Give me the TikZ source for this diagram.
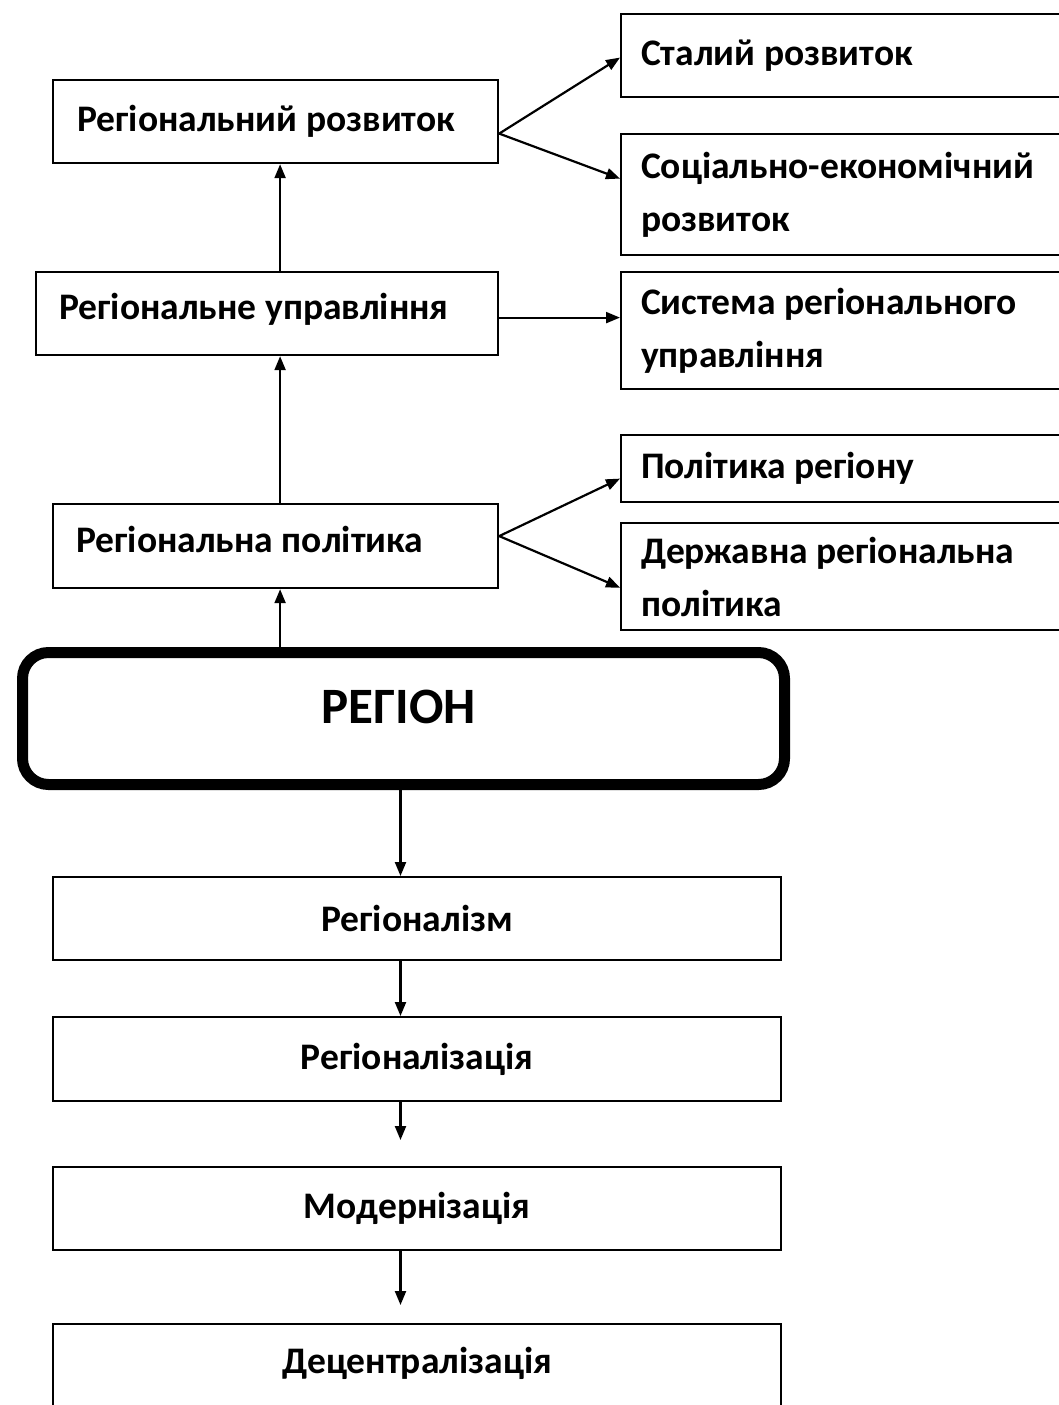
\documentclass[tikz,border=0pt]{standalone}
\usepackage{fontspec}
\setmainfont{Carlito}
\usetikzlibrary{arrows.meta,calc}
\begin{document}
\begin{tikzpicture}[x=1pt,y=-1pt,
  box/.style={draw, line width=2.2pt, inner sep=0pt, anchor=north west,
    font=\fontsize{37.5}{53}\selectfont\bfseries,
    execute at begin node={\spaceskip=8.5pt\relax}},
  leftbox/.style={box, align=flush left},
  midbox/.style={box, align=center},
  arr/.style={line width=2.2pt, -{Triangle[length=14pt,width=11pt]}},
  core/.style={draw, line width=11pt, rounded corners=26pt, inner sep=0pt,
    anchor=north west, font=\fontsize{51}{60}\selectfont\bfseries}
]
\useasboundingbox (0,0) rectangle (1059,1405);

% left column
\node[leftbox, minimum width=445, minimum height=83, text width=397] (rr) at (52,79) {Регіональний розвиток};
\node[leftbox, minimum width=462, minimum height=83, text width=416, text depth=14pt] (ru) at (35,271) {Регіональне управління};
\node[leftbox, minimum width=445, minimum height=84, text width=399, text depth=14pt] (rp) at (52,503) {Регіональна політика};

% right column
\node[leftbox, minimum width=460, minimum height=83, text width=420] (s1) at (620,13) {Сталий розвиток};
\node[leftbox, minimum width=460, minimum height=121, text width=420] (s2) at (620,133) {Соціально-економічний\\розвиток};
\node[leftbox, minimum width=460, minimum height=117, text width=420] (s3) at (620,271) {Система регіонального\\управління};
\node[leftbox, minimum width=460, minimum height=67, text width=420] (s4) at (620,434) {Політика регіону};
\node[leftbox, minimum width=460, minimum height=107, text width=420] (s5) at (620,522) {Державна регіональна\\політика};

% central node
\node[core, minimum width=762, minimum height=132, text height=33pt, text depth=23pt, text width=740, align=center] (region) at (17,647) {\hspace*{-10pt}РЕГІОН};

% lower chain
\node[midbox, minimum width=728, minimum height=83, text width=728] (b1) at (52,876) {Регіоналізм};
\node[midbox, minimum width=728, minimum height=84, text width=728] (b2) at (52,1016) {Регіоналізація};
\node[midbox, minimum width=728, minimum height=83, text width=728] (b3) at (52,1166) {Модернізація};
\node[midbox, minimum width=728, minimum height=100, text width=728, text height=24pt, text depth=26pt] (b4) at (52,1323) {Децентралізація};

% upward chain
\draw[arr] ([xshift=4.5pt]region.north -| rp.south) -- ([xshift=4.5pt]rp.south);
\draw[arr] ([xshift=4.5pt]rp.north) -- ([xshift=4.5pt]ru.south -| rp.north);
\draw[arr] ([xshift=4.5pt]ru.north -| rr.south) -- ([xshift=4.5pt]rr.south);

% branches to the right
\draw[arr] ([yshift=-12pt]rr.east) -- ([yshift=-2pt]s1.west);
\draw[arr] ([yshift=-12pt]rr.east) -- ([yshift=16pt]s2.west);
\draw[arr] ([yshift=-4pt]ru.east) -- ([yshift=-4pt]ru.east -| s3.west);
\draw[arr] ([yshift=10pt]rp.east) -- ([yshift=-10pt]s4.west);
\draw[arr] ([yshift=10pt]rp.east) -- ([yshift=-11pt]s5.west);

% downward chain
\draw[arr] ([xshift=-3pt]region.south) -- ([xshift=-3pt]region.south |- b1.north);
\draw[arr] ([xshift=-3pt]region.south |- b1.south) -- ([xshift=-3pt]region.south |- b2.north);
\draw[arr, shorten >=26pt] ([xshift=-3pt]region.south |- b2.south) -- ([xshift=-3pt]region.south |- b3.north);
\draw[arr, shorten >=18pt] ([xshift=-3pt]region.south |- b3.south) -- ([xshift=-3pt]region.south |- b4.north);
\end{tikzpicture}
\end{document}
